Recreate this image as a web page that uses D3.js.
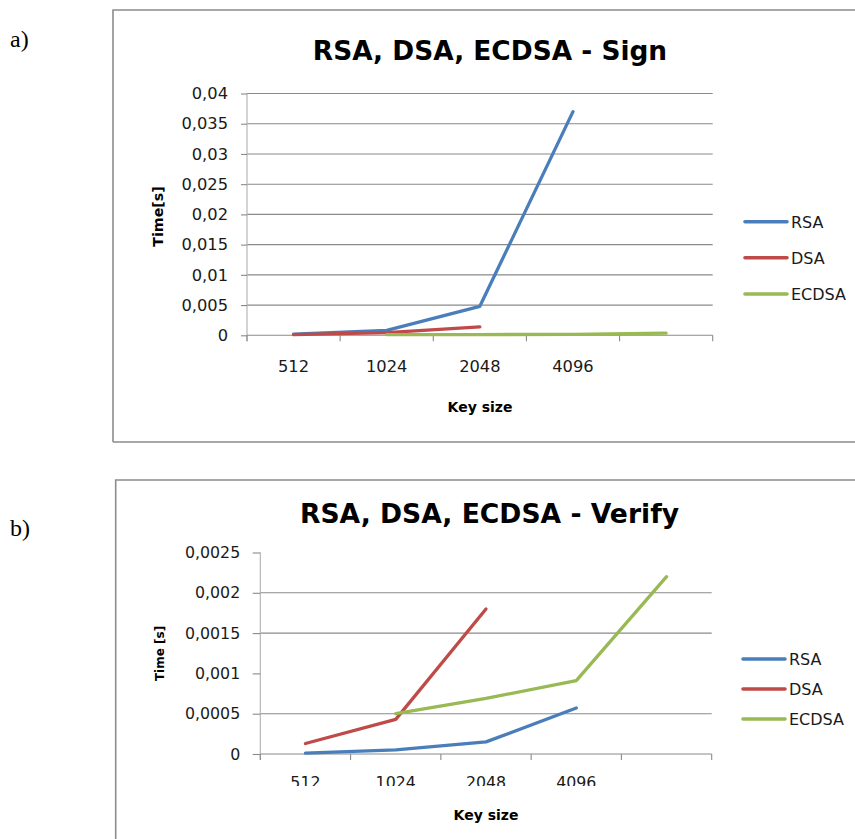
<!DOCTYPE html>
<html><head><meta charset="utf-8">
<script src="https://cdn.jsdelivr.net/npm/d3@7/dist/d3.min.js"></script>
<style>body{margin:0;background:#fff}svg{display:block}</style>
</head><body>
<svg id="c" width="855" height="839"></svg>
<script>
// ---- data ----
const categories = ["512", "1024", "2048", "4096", "-"];
const categoryLabels = ["512", "1024", "2048", "4096", ""];
const seriesNames = ["RSA", "DSA", "ECDSA"];
const seriesColors = ["#4A7EBB", "#BE4B48", "#98B954"];

const signRSA   = [0.0002, 0.0008, 0.0048, 0.037, null];
const signDSA   = [0.0001, 0.00045, 0.0014, null, null];
const signECDSA = [null, 0.0001, 0.00012, 0.00016, 0.00035];
const signTicks = [0, 0.005, 0.01, 0.015, 0.02, 0.025, 0.03, 0.035, 0.04];
const signTickLabels = ["0", "0,005", "0,01", "0,015", "0,02", "0,025", "0,03", "0,035", "0,04"];
const signGrid = [0.005, 0.01, 0.015, 0.02, 0.025, 0.03, 0.035, 0.04];

const verifyRSA   = [0.00001, 0.00005, 0.00015, 0.00057, null];
const verifyDSA   = [0.00013, 0.00043, 0.0018, null, null];
const verifyECDSA = [null, 0.0005, 0.00069, 0.00091, 0.0022];
const verifyTicks = [0, 0.0005, 0.001, 0.0015, 0.002, 0.0025];
const verifyTickLabels = ["0", "0,0005", "0,001", "0,0015", "0,002", "0,0025"];
const verifyGrid = [0.0005, 0.0015, 0.002];

// ---- drawing ----
const svg = d3.select("#c");
const FONT = "'DejaVu Sans', sans-serif";
const AXIS = "#8a8a8a";

function chart(o) {
  const g = svg.append("g");
  // frame
  g.append("path")
    .attr("d", `M${o.frame[0]},${o.frame[3]} L${o.frame[0]},${o.frame[1]} L${o.frame[2]},${o.frame[1]} M${o.frame[0]},${o.frame[3]} L${o.frame[2]},${o.frame[3]}`)
    .attr("fill", "none").attr("stroke", "#8c8c8c").attr("stroke-width", 1.6);
  // panel letter
  g.append("text").attr("x", 10).attr("y", o.letterY)
    .attr("font-family", "'Liberation Serif', serif").attr("font-size", 24).attr("fill", "#000")
    .text(o.letter);
  // title
  g.append("text").attr("x", o.titleX).attr("y", o.titleY).attr("text-anchor", "middle")
    .attr("font-family", FONT).attr("font-weight", "bold").attr("font-size", o.titleSize)
    .attr("fill", "#000").text(o.title);

  const x = d3.scaleBand().domain(categories).range([o.x0, o.x1]).paddingInner(0).paddingOuter(0);
  const y = d3.scaleLinear().domain([0, o.ymax]).range([o.y0, o.y1]);

  // gridlines
  g.append("g").selectAll("line").data(o.grid).join("line")
    .attr("x1", o.x0).attr("x2", o.x1)
    .attr("y1", d => y(d)).attr("y2", d => y(d))
    .attr("stroke", AXIS).attr("stroke-width", 1.1);

  // y axis
  const ya = g.append("g").attr("transform", `translate(${o.x0},0)`)
    .call(d3.axisLeft(y).tickValues(o.ticks).tickSize(o.ytick).tickPadding(o.ypad)
      .tickFormat((d, i) => o.tickLabels[i]));
  ya.select(".domain").attr("stroke", "#b0b0b0").attr("stroke-width", 1.1)
    .attr("d", `M0,${o.y1}V${o.y0 + 6}`);
  ya.selectAll(".tick line").attr("stroke", AXIS).attr("stroke-width", 1.1);
  ya.selectAll(".tick text").attr("font-family", FONT).attr("font-size", o.tickSize).attr("fill", "#1a1a1a");

  // x axis
  const xa = g.append("g").attr("transform", `translate(0,${o.y0})`);
  xa.append("line").attr("x1", o.x0).attr("x2", o.x1).attr("y1", 0).attr("y2", 0)
    .attr("stroke", AXIS).attr("stroke-width", 1.1);
  const bounds = categories.map(c => x(c)).concat([o.x1]);
  xa.selectAll("line.tk").data(bounds).join("line").attr("class", "tk")
    .attr("x1", d => d).attr("x2", d => d).attr("y1", 0).attr("y2", 6)
    .attr("stroke", AXIS).attr("stroke-width", 1.1);
  const lblG = xa.append("g");
  if (o.clipY) {
    const id = "clip" + o.letter.replace(")", "");
    svg.append("clipPath").attr("id", id).append("rect")
      .attr("x", 0).attr("y", 0).attr("width", 855).attr("height", o.clipY - o.y0);
    lblG.attr("clip-path", `url(#${id})`);
  }
  lblG.selectAll("text").data(categories).join("text")
    .attr("x", d => x(d) + x.bandwidth() / 2).attr("y", o.xlabY - o.y0)
    .attr("text-anchor", "middle").attr("font-family", FONT).attr("font-size", o.tickSize)
    .attr("fill", "#1a1a1a").text((d, i) => categoryLabels[i]);

  // axis titles
  g.append("text").attr("x", o.xtitleX).attr("y", o.xtitleY).attr("text-anchor", "middle")
    .attr("font-family", FONT).attr("font-weight", "bold").attr("font-size", 14).attr("fill", "#000")
    .text("Key size");
  g.append("text").attr("transform", `translate(${o.ytitleX},${o.ytitleY}) rotate(-90)`)
    .attr("text-anchor", "middle").attr("font-family", FONT).attr("font-weight", "bold")
    .attr("font-size", o.ytitleSize).attr("fill", "#000").text(o.ytitle);

  // lines
  const line = d3.line().defined(d => d.v != null)
    .x(d => x(d.c) + x.bandwidth() / 2).y(d => y(d.v));
  o.series.forEach((s, i) => {
    const pts = categories.map((c, j) => ({ c, v: s[j] }));
    g.append("path").datum(pts).attr("d", line).attr("fill", "none")
      .attr("stroke", seriesColors[i]).attr("stroke-width", 3.3)
      .attr("stroke-linejoin", "round").attr("stroke-linecap", "round");
  });

  // legend
  const lg = g.append("g");
  seriesNames.forEach((n, i) => {
    const ly = o.legY[i];
    lg.append("line").attr("x1", o.legX).attr("x2", o.legX + 42).attr("y1", ly).attr("y2", ly)
      .attr("stroke", seriesColors[i]).attr("stroke-width", 3.6).attr("stroke-linecap", "round");
    lg.append("text").attr("x", o.legX + 46).attr("y", ly + 6)
      .attr("font-family", FONT).attr("font-size", 16).attr("fill", "#1a1a1a").text(n);
  });
}

chart({
  frame: [113, 10, 858, 442], letter: "a)", letterY: 47,
  title: "RSA, DSA, ECDSA - Sign", titleX: 490, titleY: 60, titleSize: 26.4,
  x0: 247, x1: 712.7, y0: 335.3, y1: 93.5, ymax: 0.04,
  grid: signGrid, ticks: signTicks, tickLabels: signTickLabels,
  ytick: 6, ypad: 13, tickSize: 16.3, xlabY: 372.5,
  xtitleX: 480, xtitleY: 412, ytitleX: 163, ytitleY: 216.5, ytitle: "Time[s]", ytitleSize: 14.2,
  series: [signRSA, signDSA, signECDSA],
  legX: 745, legY: [221.7, 257.7, 294]
});

chart({
  frame: [115.7, 480, 858, 845], letter: "b)", letterY: 536,
  title: "RSA, DSA, ECDSA - Verify", titleX: 489.5, titleY: 523, titleSize: 26.6,
  x0: 260.3, x1: 711.7, y0: 754, y1: 552.5, ymax: 0.0025,
  grid: verifyGrid, ticks: verifyTicks, tickLabels: verifyTickLabels,
  ytick: 7.6, ypad: 12.5, tickSize: 15.8, xlabY: 787.5, clipY: 786,
  xtitleX: 486, xtitleY: 820, ytitleX: 164, ytitleY: 653.5, ytitle: "Time [s]", ytitleSize: 12,
  series: [verifyRSA, verifyDSA, verifyECDSA],
  legX: 743, legY: [659, 689, 719]
});
</script>
</body></html>
